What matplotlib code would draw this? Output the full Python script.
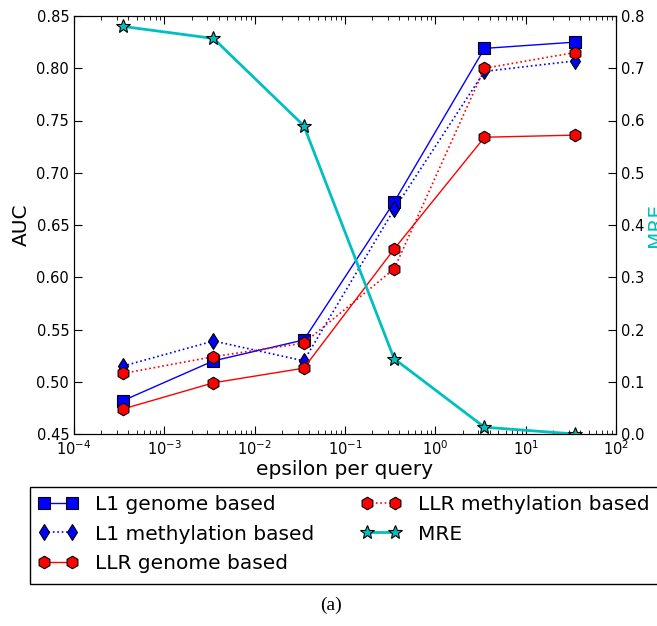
import matplotlib
matplotlib.use("Agg")
import matplotlib.pyplot as plt
from matplotlib.patches import Rectangle
from matplotlib.ticker import FixedLocator, FormatStrFormatter

eps = [3.5e-4, 3.5e-3, 3.5e-2, 3.5e-1, 3.5, 35]
l1_genome = [0.482, 0.520, 0.540, 0.672, 0.819, 0.825]
l1_meth = [0.515, 0.539, 0.520, 0.665, 0.797, 0.807]
llr_genome = [0.474, 0.499, 0.513, 0.627, 0.734, 0.736]
llr_meth = [0.508, 0.524, 0.537, 0.608, 0.800, 0.815]
mre = [0.780, 0.757, 0.590, 0.144, 0.013, 0.000]

auc_ticks = [0.45, 0.50, 0.55, 0.60, 0.65, 0.70, 0.75, 0.80, 0.85]
mre_ticks = [0.0, 0.1, 0.2, 0.3, 0.4, 0.5, 0.6, 0.7, 0.8]

W, H = 657, 626
fig = plt.figure(figsize=(W / 100, H / 100), dpi=100)
ax = fig.add_axes([74 / W, 1 - 434 / H, (616 - 74) / W, (434 - 16) / H])
ax2 = ax.twinx()

ms = 9
h1, = ax.plot(eps, l1_genome, 'b-', marker='s', ms=ms, mec='k', mew=0.8, lw=1,
              label='L1 genome based')
h2, = ax.plot(eps, l1_meth, 'b:', marker='d', ms=8.5, mec='k', mew=0.8, lw=1.2,
              label='L1 methylation based')
h3, = ax.plot(eps, llr_genome, 'r-', marker='h', ms=ms, mec='k', mew=0.8, lw=1,
              label='LLR genome based')
h4, = ax.plot(eps, llr_meth, 'r:', marker='h', ms=ms, mec='k', mew=0.8, lw=1.2,
              label='LLR methylation based')
h5, = ax2.plot(eps, mre, '-', color='c', marker='*', ms=10, mec='k', mew=0.8, lw=2,
               label='MRE')

ax.set_xscale('log')
ax.set_xlim(1e-4, 1e2)
ax.set_ylim(0.45, 0.85)
ax2.set_ylim(0.0, 0.8)
ax.yaxis.set_major_locator(FixedLocator(auc_ticks))
ax.yaxis.set_major_formatter(FormatStrFormatter('%.2f'))
ax2.yaxis.set_major_locator(FixedLocator(mre_ticks))
ax2.yaxis.set_major_formatter(FormatStrFormatter('%.1f'))

ax.tick_params(which='both', direction='in', top=True, right=False, labelsize=10.5)
ax.tick_params(which='major', length=6)
ax.tick_params(which='minor', length=3)
ax2.tick_params(which='both', direction='in', labelsize=10.5, length=6)

ax.set_xlabel('epsilon per query', fontsize=14.5, labelpad=2)
ax.set_ylabel('AUC', fontsize=14.5)
ax2.set_ylabel('MRE', fontsize=14.5, color='c', labelpad=1)

leg = fig.legend(handles=[h1, h2, h3, h4, h5], loc='upper left',
                 bbox_to_anchor=(30 / W, 1 - 487 / H), ncol=2, fontsize=14.5,
                 numpoints=2, handlelength=2.0, handletextpad=0.85,
                 columnspacing=2.3, frameon=False, borderpad=0.4,
                 borderaxespad=0, labelspacing=0.52)

fig.patches.append(Rectangle((30 / W, 1 - 584 / H), (700 - 30) / W, (584 - 487) / H,
                             transform=fig.transFigure, fill=False,
                             edgecolor='k', lw=1, figure=fig))

fig.text(331 / W, 1 - 605 / H, '(a)', ha='center', va='center', fontsize=14,
         family='Liberation Serif')

fig.savefig('out.png', dpi=100)
